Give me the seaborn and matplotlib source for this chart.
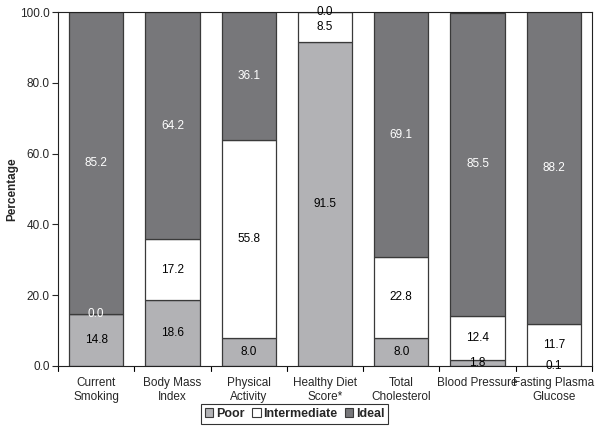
import numpy as np
import seaborn as sns
import matplotlib.pyplot as plt
from matplotlib.patches import Patch

categories = ['Current\nSmoking', 'Body Mass\nIndex', 'Physical\nActivity', 'Healthy Diet\nScore*',
              'Total\nCholesterol', 'Blood Pressure', 'Fasting Plasma\nGlucose']
poor = [14.8, 18.6, 8.0, 91.5, 8.0, 1.8, 0.1]
intermediate = [0.0, 17.2, 55.8, 8.5, 22.8, 12.4, 11.7]
ideal = [85.2, 64.2, 36.1, 0.0, 69.1, 85.5, 88.2]
series_names = ['Poor', 'Intermediate', 'Ideal']

sns.set_style('white')
plt.rcParams['font.family'] = ['Liberation Sans', 'DejaVu Sans']

colors = ['#b2b2b5', '#ffffff', '#77777a']
edge = '#3a3a3a'

fig = plt.figure(figsize=(6.01, 4.32), dpi=100)
ax = fig.add_axes([0.0965, 0.153, 0.8885, 0.819])

series = [np.array(poor), np.array(intermediate), np.array(ideal)]
bottoms = []
bottom = np.zeros(len(categories))
for vals, clr in zip(series, colors):
  bottoms.append(bottom.copy())
  sns.barplot(x=categories, y=vals, bottom=bottom, color=clr, width=0.71,
              edgecolor=edge, linewidth=0.9, saturation=1, ax=ax)
  bottom = bottom + vals

# data labels at segment centres; white where the label sits on the dark "ideal" part
for i in range(len(categories)):
  for k, vals in enumerate(series):
    y = bottoms[k][i] + vals[i] / 2
    txt_color = 'black'
    for kk, vv in enumerate(series):
      lo, hi = bottoms[kk][i], bottoms[kk][i] + vv[i]
      if vv[i] > 0 and lo <= y < hi:
        txt_color = 'white' if kk == 2 else 'black'
    ax.text(i, y, '{:.1f}'.format(vals[i]), ha='center', va='center',
            fontsize=8.5, color=txt_color)

ax.set_xlim(-0.5, len(categories) - 0.5)
ax.set_ylim(0, 100)
ax.set_yticks(np.arange(0, 101, 20))
ax.set_yticklabels(['{:.1f}'.format(v) for v in np.arange(0, 101, 20)], fontsize=8.5)
ax.set_xticks(range(len(categories)))
ax.set_xticklabels(categories, fontsize=8.5)
ax.tick_params(axis='x', length=0, pad=8)
ax.tick_params(axis='y', length=4, direction='out', left=True, width=0.8, pad=2)
# category boundary ticks on x axis
for b in np.arange(-0.5, len(categories), 1.0):
  ax.plot([b, b], [0, -1.3], color='black', lw=0.8, clip_on=False)
for s in ax.spines.values():
  s.set_color('#222222')
  s.set_linewidth(0.8)
ax.set_ylabel('Percentage', fontsize=8.5, fontweight='bold')
ax.yaxis.set_label_coords(-0.075, 0.5)

handles = [Patch(facecolor=c, edgecolor=edge, linewidth=0.8, label=n) for c, n in zip(colors, series_names)]
leg = fig.legend(handles=handles, loc='center', bbox_to_anchor=(0.49, 0.042), ncol=3,
                 frameon=True, fancybox=False, edgecolor='black',
                 handlelength=0.7, handleheight=0.7, handletextpad=0.2, columnspacing=0.6,
                 borderpad=0.3, prop={'weight': 'bold', 'size': 9})
leg.get_frame().set_linewidth(0.8)

fig.savefig('out.png', dpi=100)
